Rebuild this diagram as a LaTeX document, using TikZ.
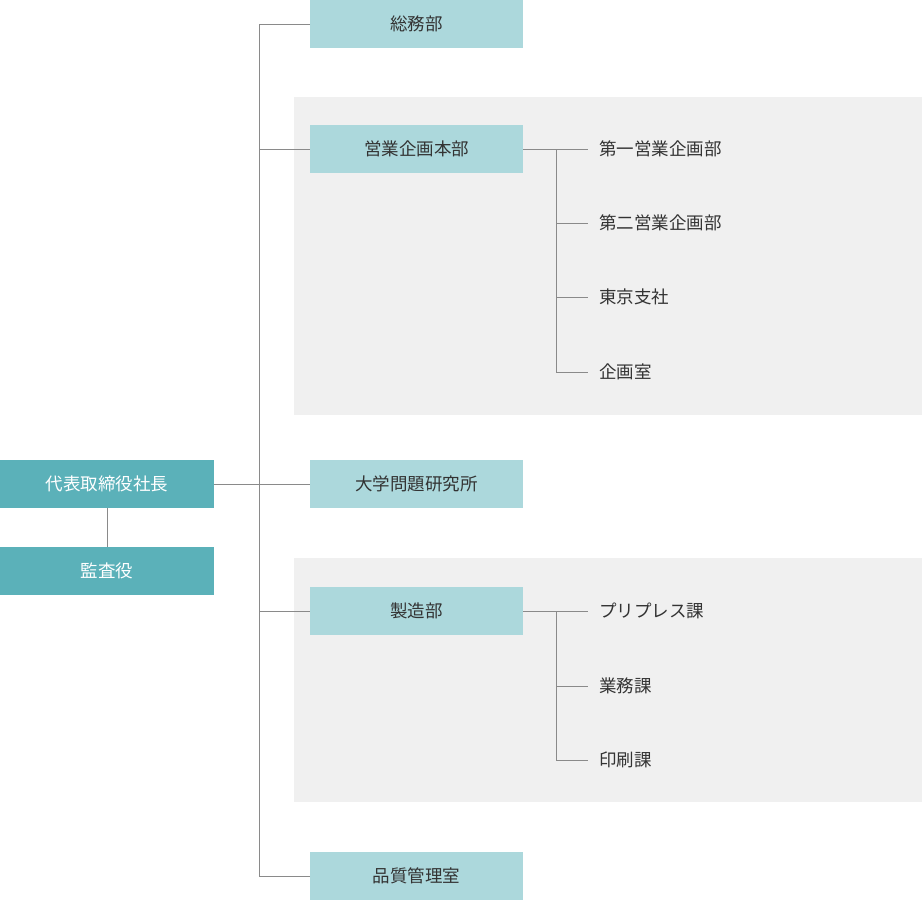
\documentclass[tikz,border=0pt]{standalone}
\usepackage{fontspec}
\setmainfont{Noto Sans CJK JP}
\definecolor{darkteal}{HTML}{5BB1B9}
\definecolor{lightteal}{HTML}{ACD8DC}
\definecolor{panelgray}{HTML}{F0F0F0}
\definecolor{linegray}{HTML}{8A8A8A}
\definecolor{textdark}{HTML}{333333}
\begin{document}
\begin{tikzpicture}[x=1pt,y=-1pt,
  every node/.style={font=\fontsize{17.5}{20}\selectfont, inner sep=0pt},
  topbox/.style={fill=darkteal, text=white, minimum width=214pt, minimum height=48pt, anchor=north west},
  deptbox/.style={fill=lightteal, text=textdark, minimum width=213pt, minimum height=48pt, anchor=north west},
  sublabel/.style={text=textdark, anchor=west},
  conn/.style={draw=linegray, line width=1pt}]
\useasboundingbox (0,0) rectangle (922,900);
\fill[panelgray] (294,97) rectangle (922,415);
\fill[panelgray] (294,558) rectangle (922,802);
% nodes
\node[topbox] (ceo) at (0,460) {代表取締役社長};
\node[topbox] (audit) at (0,547) {監査役};
\node[deptbox] (soumu) at (310,0) {総務部};
\node[deptbox] (eigyo) at (310,125) {営業企画本部};
\node[deptbox] (daigaku) at (310,460) {大学問題研究所};
\node[deptbox] (seizo) at (310,587) {製造部};
\node[deptbox] (hinshitsu) at (310,852) {品質管理室};
\node[sublabel] (e1) at (599,149) {第一営業企画部};
\node[sublabel] (e2) at (599,223) {第二営業企画部};
\node[sublabel] (e3) at (599,297) {東京支社};
\node[sublabel] (e4) at (599,372) {企画室};
\node[sublabel] (s1) at (599,611) {プリプレス課};
\node[sublabel] (s2) at (599,686) {業務課};
\node[sublabel] (s3) at (599,760) {印刷課};
% trunk coordinates
\coordinate (ttop) at (259,24);
\coordinate (tbot) at (259,876);
\coordinate (bx) at (588,0);
% connectors
\draw[conn] (ceo.south) -- (audit.north);
\draw[conn] (ceo.east) -- (daigaku.west);
\draw[conn] (soumu.west) -- (soumu.west -| ttop) -- (hinshitsu.west -| tbot) -- (hinshitsu.west);
\draw[conn] (eigyo.west -| ttop) -- (eigyo.west);
\draw[conn] (seizo.west -| ttop) -- (seizo.west);
% sub trunks
\coordinate (eb) at (556,149);
\coordinate (sb) at (556,611);
\draw[conn] (eigyo.east) -- (eigyo.east -| bx);
\draw[conn] (eb) -- (e4.west -| eb) -- (e4.west -| bx);
\draw[conn] (e2.west -| eb) -- (e2.west -| bx);
\draw[conn] (e3.west -| eb) -- (e3.west -| bx);
\draw[conn] (seizo.east) -- (seizo.east -| bx);
\draw[conn] (sb) -- (s3.west -| sb) -- (s3.west -| bx);
\draw[conn] (s2.west -| sb) -- (s2.west -| bx);
\end{tikzpicture}
\end{document}
